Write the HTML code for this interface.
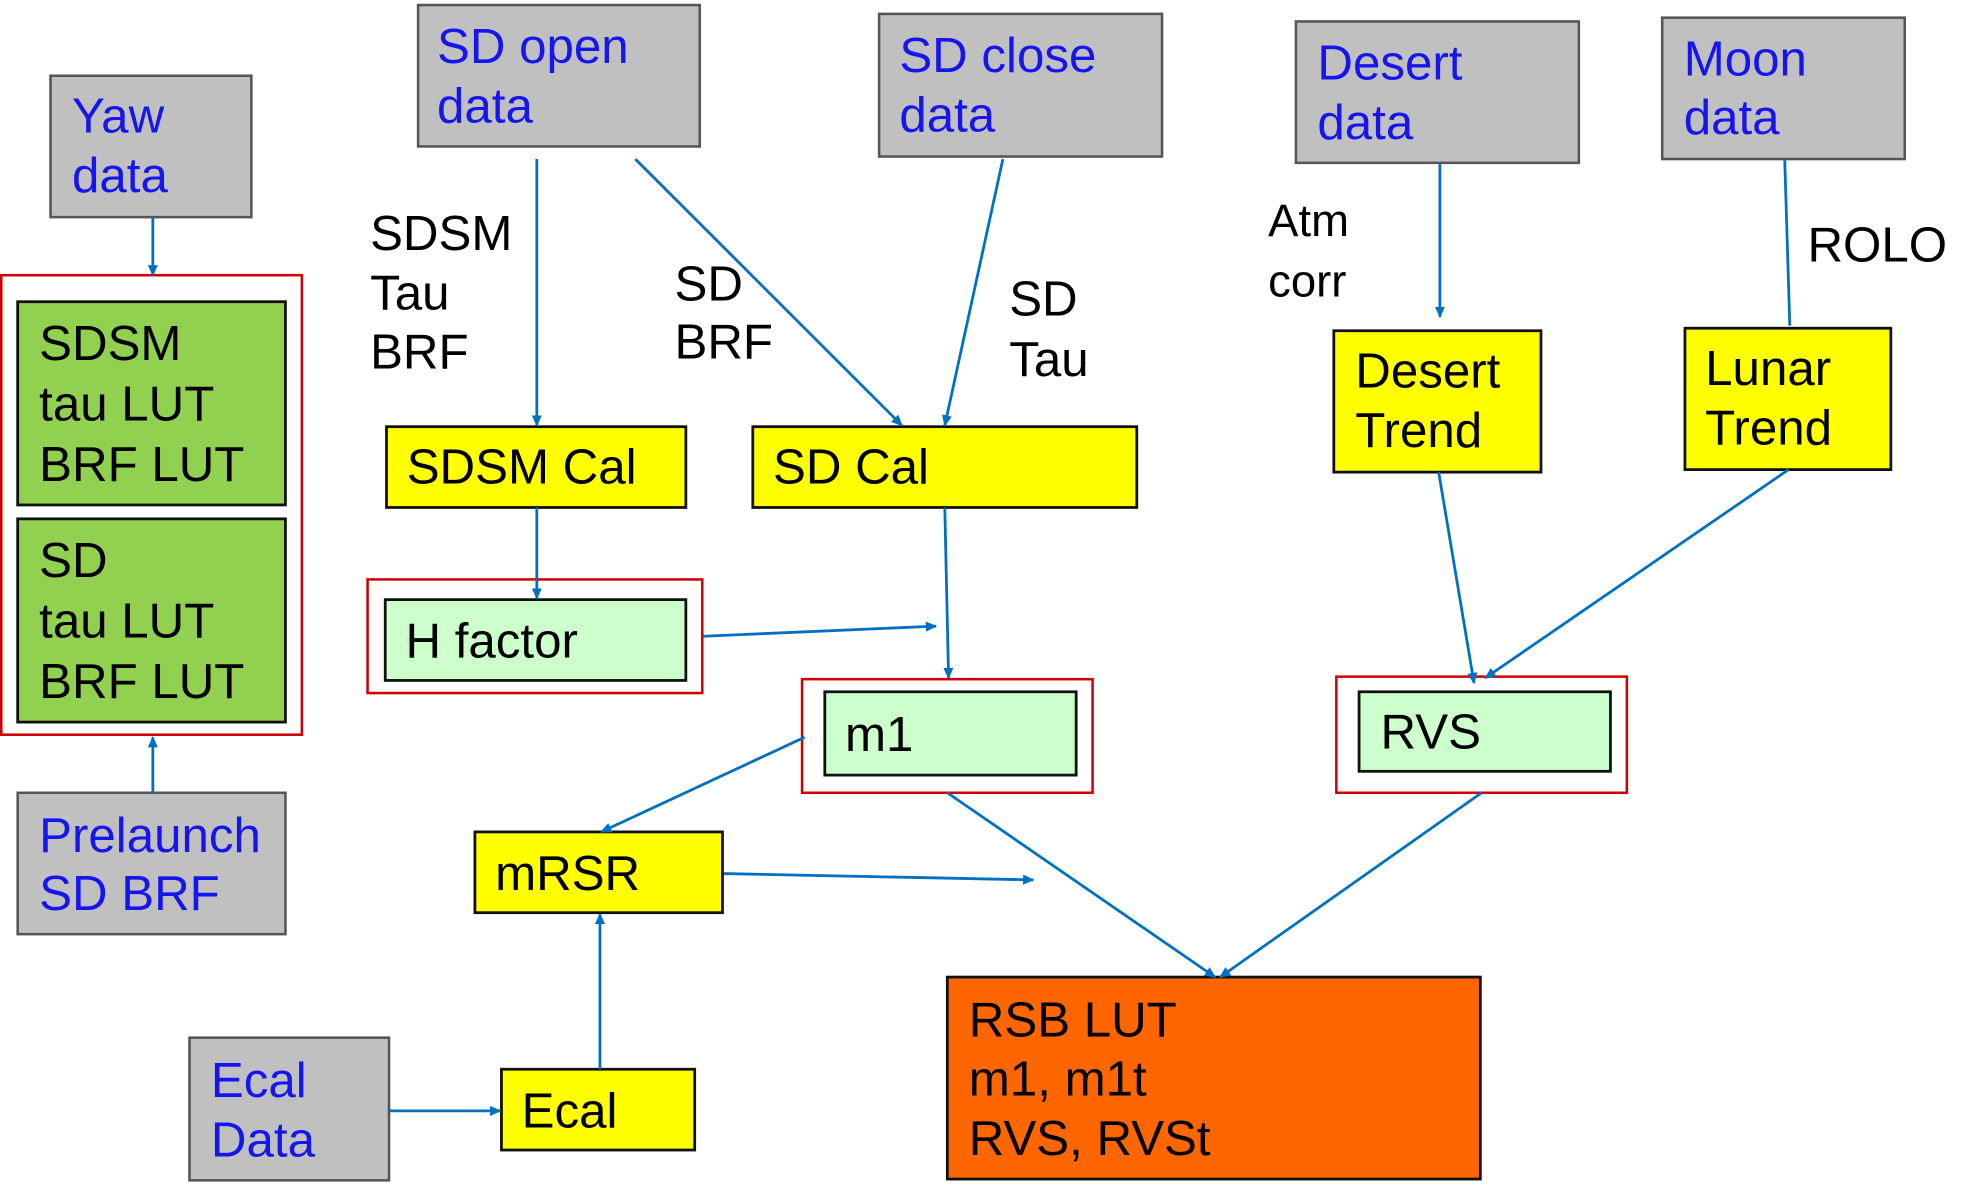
<!DOCTYPE html>
<html><head><meta charset="utf-8"><style>
html,body{margin:0;padding:0;background:#fff;}
svg{display:block;}
text{font-family:"Liberation Sans",Arial,sans-serif;font-size:39px;}
.b{fill:#1515f0;}
.k{fill:#000;}
.g{fill:#c0c0c0;stroke:#555;stroke-width:2;}
.y{fill:#ffff00;stroke:#111;stroke-width:2.2;}
.lg{fill:#ccffcc;stroke:#111;stroke-width:2.2;}
.dg{fill:#92d050;stroke:#111;stroke-width:2.2;}
.r{fill:none;stroke:#d00000;stroke-width:2;}
.a{stroke:#0070c0;stroke-width:2.2;fill:none;}
</style></head><body>
<svg width="1978" height="1198" viewBox="0 0 1566 949" preserveAspectRatio="none" xmlns="http://www.w3.org/2000/svg">
<defs><marker id="m" markerWidth="10" markerHeight="10" refX="8" refY="5" orient="auto" markerUnits="userSpaceOnUse"><path d="M0,1 L9,5 L0,9 z" fill="#0070c0"/></marker></defs>

<rect class="g" x="40" y="60" width="159" height="112"/>
<text class="b" x="57" y="105">Yaw</text><text class="b" x="57" y="152">data</text>
<rect class="g" x="331" y="4" width="223" height="112"/>
<text class="b" x="346" y="50">SD open</text><text class="b" x="346" y="97">data</text>
<rect class="g" x="696" y="11" width="224" height="113"/>
<text class="b" x="712" y="57">SD close</text><text class="b" x="712" y="104">data</text>
<rect class="g" x="1026" y="17" width="224" height="112"/>
<text class="b" x="1043" y="63">Desert</text><text class="b" x="1043" y="110">data</text>
<rect class="g" x="1316" y="14" width="192" height="112"/>
<text class="b" x="1333" y="60">Moon</text><text class="b" x="1333" y="106">data</text>
<rect class="g" x="14" y="628" width="212" height="112"/>
<text class="b" x="31" y="675">Prelaunch</text><text class="b" x="31" y="721">SD BRF</text>
<rect class="g" x="150" y="822" width="158" height="113"/>
<text class="b" x="167" y="869">Ecal</text><text class="b" x="167" y="916">Data</text>

<rect class="r" x="1" y="218" width="238" height="364"/>
<rect class="dg" x="14" y="239" width="212" height="161"/>
<text class="k" x="31" y="285">SDSM</text><text class="k" x="31" y="333">tau LUT</text><text class="k" x="31" y="381">BRF LUT</text>
<rect class="dg" x="14" y="411" width="212" height="161"/>
<text class="k" x="31" y="457">SD</text><text class="k" x="31" y="505">tau LUT</text><text class="k" x="31" y="553">BRF LUT</text>

<text class="k" x="293" y="198">SDSM</text><text class="k" x="293" y="245">Tau</text><text class="k" x="293" y="292">BRF</text>
<text class="k" x="534" y="238">SD</text><text class="k" x="534" y="284">BRF</text>
<text class="k" x="799" y="250">SD</text><text class="k" x="799" y="298">Tau</text>
<text class="k" x="1004" y="187" style="font-size:36px">Atm</text><text class="k" x="1004" y="235" style="font-size:36px">corr</text>
<text class="k" x="1431" y="207">ROLO</text>

<rect class="y" x="306" y="338" width="237" height="64"/><text class="k" x="322" y="383">SDSM Cal</text>
<rect class="y" x="596" y="338" width="304" height="64"/><text class="k" x="612" y="383">SD Cal</text>
<rect class="y" x="1056" y="262" width="164" height="112"/>
<text class="k" x="1073" y="307">Desert</text><text class="k" x="1073" y="354">Trend</text>
<rect class="y" x="1334" y="260" width="163" height="112"/>
<text class="k" x="1350" y="305">Lunar</text><text class="k" x="1350" y="352">Trend</text>
<rect class="y" x="376" y="659" width="196" height="64"/><text class="k" x="392" y="705">mRSR</text>
<rect class="y" x="397" y="847" width="153" height="64"/><text class="k" x="413" y="893">Ecal</text>

<rect class="r" x="291" y="459" width="265" height="90"/>
<rect class="lg" x="305" y="475" width="238" height="64"/><text class="k" x="321" y="521">H factor</text>
<rect class="r" x="635" y="538" width="230" height="90"/>
<rect class="lg" x="653" y="548" width="199" height="66"/><text class="k" x="669" y="595">m1</text>
<rect class="r" x="1058" y="536" width="230" height="92"/>
<rect class="lg" x="1076" y="548" width="199" height="63"/><text class="k" x="1093" y="593">RVS</text>

<rect x="750" y="774" width="422" height="160" fill="#ff6600" stroke="#111" stroke-width="2.2"/>
<text class="k" x="767" y="821">RSB LUT</text><text class="k" x="767" y="868">m1, m1t</text><text class="k" x="767" y="915">RVS, RVSt</text>

<g class="a">
<line x1="121" y1="172" x2="121" y2="218" marker-end="url(#m)"/>
<line x1="121" y1="628" x2="121" y2="584" marker-end="url(#m)"/>
<line x1="425" y1="126" x2="425" y2="337" marker-end="url(#m)"/>
<line x1="503" y1="126" x2="714" y2="337" marker-end="url(#m)"/>
<line x1="794" y1="126" x2="748" y2="337" marker-end="url(#m)"/>
<line x1="1140" y1="130" x2="1140" y2="251" marker-end="url(#m)"/>
<line x1="1413" y1="127" x2="1417" y2="258"/>
<line x1="425" y1="402" x2="425" y2="474" marker-end="url(#m)"/>
<line x1="557" y1="504" x2="741" y2="496" marker-end="url(#m)"/>
<line x1="748" y1="402" x2="751" y2="537" marker-end="url(#m)"/>
<line x1="637" y1="584" x2="476" y2="659" marker-end="url(#m)"/>
<line x1="573" y1="692" x2="818" y2="697" marker-end="url(#m)"/>
<line x1="475" y1="847" x2="475" y2="724" marker-end="url(#m)"/>
<line x1="308" y1="880" x2="396" y2="880" marker-end="url(#m)"/>
<line x1="1139" y1="374" x2="1167" y2="541" marker-end="url(#m)"/>
<line x1="1416" y1="372" x2="1176" y2="537" marker-end="url(#m)"/>
<line x1="750" y1="628" x2="962" y2="774" marker-end="url(#m)"/>
<line x1="1173" y1="628" x2="966" y2="774" marker-end="url(#m)"/>
</g>
</svg>
</body></html>
